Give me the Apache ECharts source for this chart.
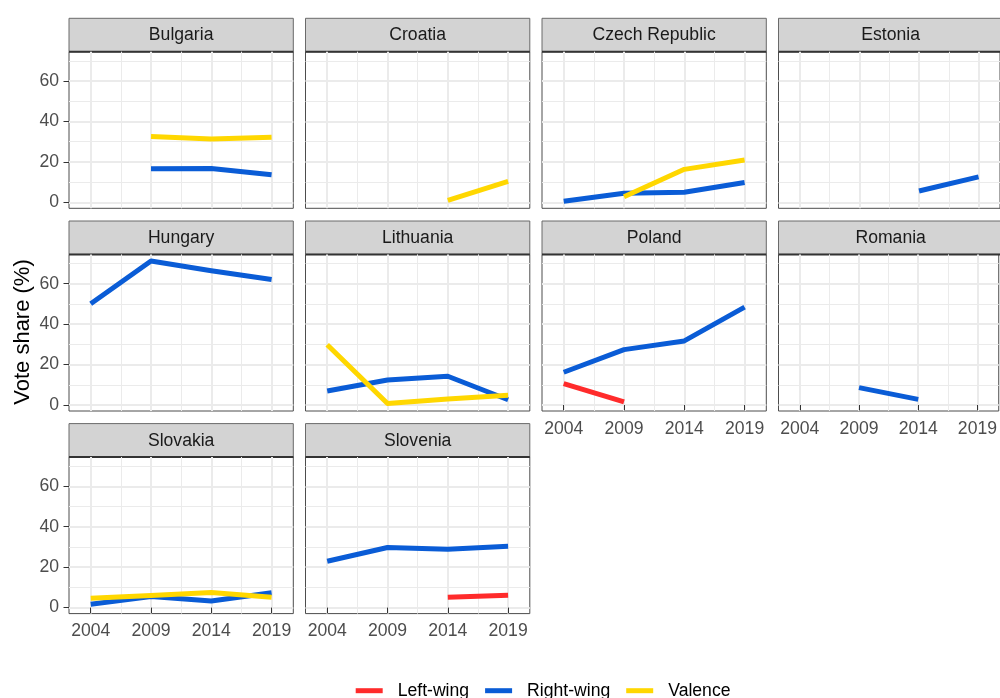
<!DOCTYPE html>
<html>
<head>
<meta charset="utf-8">
<script src="https://cdn.jsdelivr.net/npm/echarts@6/dist/echarts.min.js"></script>
<style>
  html, body { margin: 0; padding: 0; background: #fff; }
  #chart { width: 1000px; height: 698px; }
</style>
</head>
<body>
<div id="chart"></div>
<script>
// facets, in plotting order (4 columns)
const countries = ['Bulgaria', 'Croatia', 'Czech Republic', 'Estonia', 'Hungary',
  'Lithuania', 'Poland', 'Romania', 'Slovakia', 'Slovenia'];
const years = [2004, 2009, 2014, 2019];
const yTicks = [0, 20, 40, 60];
const yMinor = [10, 30, 50, 70];
const xMinor = [2006.5, 2011.5, 2016.5];
const parties = ['Left-wing', 'Right-wing', 'Valence'];

// vote share (%) per country, one value per year (null = no party)
const leftWing = [
  [null, null, null, null], // Bulgaria
  [null, null, null, null], // Croatia
  [null, null, null, null], // Czech Republic
  [null, null, null, null], // Estonia
  [null, null, null, null], // Hungary
  [null, null, null, null], // Lithuania
  [10.6, 1.5, null, null],  // Poland
  [null, null, null, null], // Romania
  [null, null, null, null], // Slovakia
  [null, null, 5.1, 6.1]    // Slovenia
];
const rightWing = [
  [null, 16.6, 16.7, 13.6],
  [null, null, null, null],
  [0.55, 4.5, 5.0, 9.8],
  [null, null, 5.6, 12.6],
  [50.1, 71.2, 66.4, 62.1],
  [6.9, 12.4, 14.2, 2.6],
  [16.2, 27.4, 31.7, 48.4],
  [null, 8.6, 2.8, null],
  [1.7, 5.5, 3.3, 7.3],
  [22.9, 29.7, 28.9, 30.3]
];
const valence = [
  [null, 32.5, 31.3, 32.2],
  [null, null, 1.0, 10.3],
  [null, 2.7, 16.3, 20.9],
  [null, null, null, null],
  [null, null, null, null],
  [29.8, 0.7, 3.0, 4.8],
  [null, null, null, null],
  [null, null, null, null],
  [4.6, 6.0, 7.5, 5.1],
  [null, null, null, null]
];

const colors = ['#FF2B2B', '#0A5CD6', '#FFD700'];
const FONT = 'Liberation Sans, Arial, sans-serif';

// layout (px)
const colLeft = [69, 305.5, 542, 778.5];
const rowTop = [18.3, 221, 423.6];
const panelW = 224.3, stripH = 33.4, panelH = 156.6;
const xMin = 2002.2, xMax = 2020.8, yMin = -2.97, yMax = 74.5;

const grids = [], xAxes = [], yAxes = [], graphics = [], series = [];

countries.forEach((name, i) => {
  const col = i % 4, row = Math.floor(i / 4);
  const left = colLeft[col], top = rowTop[row] + stripH;
  // x labels only where nothing sits below
  const showX = i >= 6;
  const showY = col === 0;

  grids.push({
    left: left, top: top, width: panelW, height: panelH,
    show: true, backgroundColor: '#fff', borderColor: '#4D4D4D', borderWidth: 1
  });

  const axisFont = { fontSize: 17.6, color: '#4D4D4D', fontFamily: FONT };
  // major x
  xAxes.push({
    type: 'value', gridIndex: i, min: xMin, max: xMax,
    axisLine: { show: false },
    axisTick: { show: true, customValues: years, length: 5.5,
      lineStyle: { color: showX ? '#333' : 'rgba(0,0,0,0)', width: 1 } },
    axisLabel: Object.assign({ show: showX, customValues: years, margin: 9,
      formatter: v => String(v) }, axisFont),
    splitLine: { show: true, lineStyle: { color: '#EBEBEB', width: 2 } }
  });
  // minor x
  xAxes.push({
    type: 'value', gridIndex: i, min: xMin, max: xMax,
    axisLine: { show: false },
    axisTick: { show: true, customValues: xMinor, length: 0,
      lineStyle: { color: 'rgba(0,0,0,0)' } },
    axisLabel: { show: false },
    splitLine: { show: true, lineStyle: { color: '#EBEBEB', width: 1 } }
  });
  // major y
  yAxes.push({
    type: 'value', gridIndex: i, min: yMin, max: yMax,
    axisLine: { show: false },
    axisTick: { show: true, customValues: yTicks, length: 5.5,
      lineStyle: { color: showY ? '#333' : 'rgba(0,0,0,0)', width: 1 } },
    axisLabel: Object.assign({ show: showY, customValues: yTicks, margin: 10 }, axisFont),
    splitLine: { show: true, lineStyle: { color: '#EBEBEB', width: 2 } }
  });
  // minor y
  yAxes.push({
    type: 'value', gridIndex: i, min: yMin, max: yMax,
    axisLine: { show: false },
    axisTick: { show: true, customValues: yMinor, length: 0,
      lineStyle: { color: 'rgba(0,0,0,0)' } },
    axisLabel: { show: false },
    splitLine: { show: true, lineStyle: { color: '#EBEBEB', width: 1 } }
  });

  // strip
  graphics.push({
    type: 'rect', shape: { x: left, y: rowTop[row], width: panelW, height: stripH },
    style: { fill: '#D3D3D3', stroke: '#6A6A6A', lineWidth: 1 }
  });
  graphics.push({
    type: 'line', shape: { x1: left, y1: top, x2: left + panelW, y2: top },
    style: { stroke: '#333', lineWidth: 2 }
  });
  graphics.push({
    type: 'text', x: left + panelW / 2, y: rowTop[row] + stripH / 2 + 0.5,
    style: { text: name, align: 'center', verticalAlign: 'middle',
      font: '17.6px ' + FONT, fill: '#1A1A1A' }
  });

  [leftWing, rightWing, valence].forEach((arr, p) => {
    const pts = years.map((y, k) => [y, arr[i][k]]).filter(d => d[1] !== null);
    if (!pts.length) return;
    series.push({
      name: parties[p], type: 'line', xAxisIndex: 2 * i, yAxisIndex: 2 * i,
      data: pts, showSymbol: false, symbol: 'none', silent: true,
      lineStyle: { color: colors[p], width: 5, join: 'round', cap: 'butt' },
      itemStyle: { color: colors[p] }, z: 3 + p
    });
  });
});

// y axis title
graphics.push({
  type: 'text', x: 23, y: 332, rotation: Math.PI / 2,
  style: { text: 'Vote share (%)', align: 'center', verticalAlign: 'middle',
    font: '22px ' + FONT, fill: '#000' }
});

const chart = echarts.init(document.getElementById('chart'), null, { renderer: 'canvas' });
chart.setOption({
  animation: false,
  textStyle: { fontFamily: FONT },
  grid: grids,
  xAxis: xAxes,
  yAxis: yAxes,
  graphic: graphics,
  legend: {
    data: parties, left: 355.7, top: 680.7, orient: 'horizontal', padding: 0,
    icon: 'rect', itemWidth: 27, itemHeight: 5, itemGap: 16,
    textStyle: { fontSize: 17.6, color: '#000', fontFamily: FONT, lineHeight: 20,
      padding: [0, 0, 0, 10] }
  },
  series: series
});
</script>
</body>
</html>
